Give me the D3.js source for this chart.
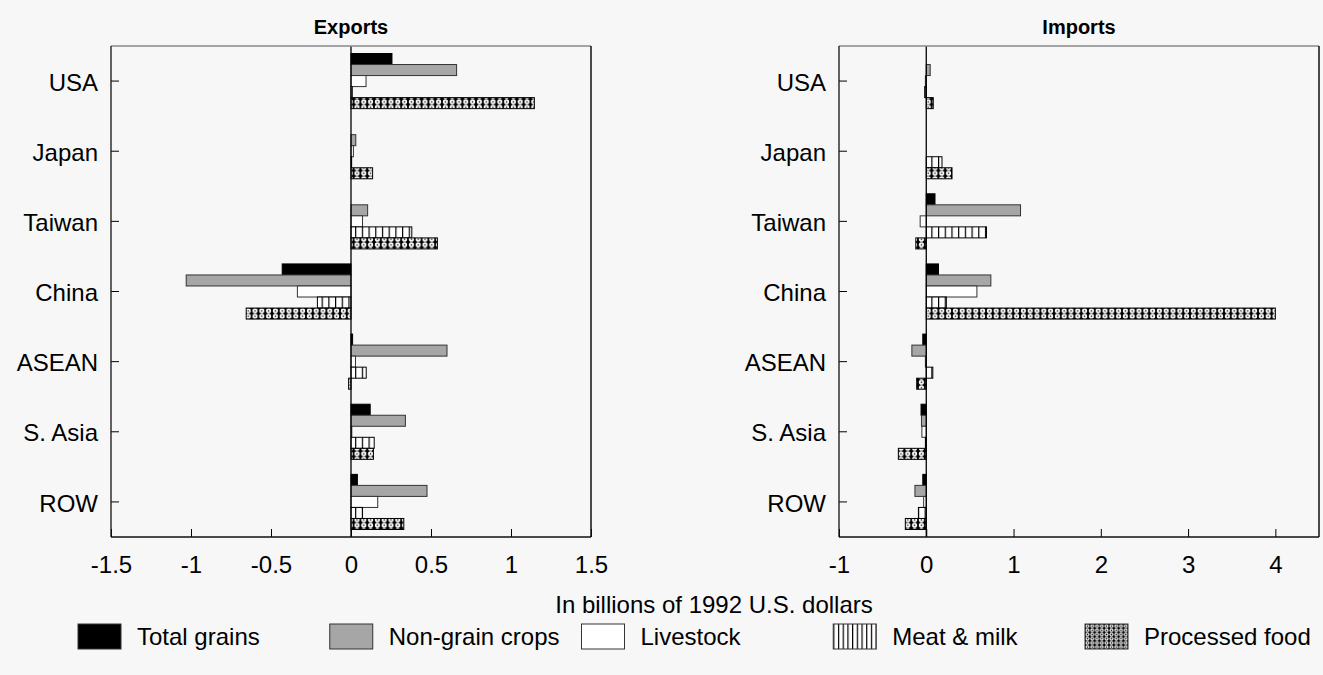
<!DOCTYPE html>
<html>
<head>
<meta charset="utf-8">
<script src="https://cdn.jsdelivr.net/npm/d3@7"></script>
<style>
  html, body { margin: 0; padding: 0; background: #f7f7f7; }
  svg { display: block; font-family: "Liberation Sans", Arial, sans-serif; }
</style>
</head>
<body>
<svg id="chart" width="1323" height="675"></svg>
<script>
// Regions and commodity groups
const regions = ["USA", "Japan", "Taiwan", "China", "ASEAN", "S. Asia", "ROW"];
const groups = ["Total grains", "Non-grain crops", "Livestock", "Meat & milk", "Processed food"];

// Change in exports, billions of 1992 US$
const expTotalGrains = [0.256, 0, 0, -0.43, 0.01, 0.12, 0.04];
const expNonGrain    = [0.66, 0.03, 0.104, -1.03, 0.6, 0.34, 0.475];
const expLivestock   = [0.094, 0.015, 0.072, -0.335, 0.028, 0.005, 0.167];
const expMeatMilk    = [0.008, 0.004, 0.38, -0.21, 0.095, 0.145, 0.072];
const expProcessed   = [1.146, 0.135, 0.54, -0.655, -0.015, 0.14, 0.33];

// Change in imports, billions of 1992 US$
const impTotalGrains = [0, 0, 0.1, 0.14, -0.04, -0.06, -0.04];
const impNonGrain    = [0.045, 0, 1.08, 0.74, -0.165, -0.055, -0.13];
const impLivestock   = [-0.01, 0, -0.07, 0.58, -0.01, -0.05, -0.03];
const impMeatMilk    = [-0.018, 0.18, 0.69, 0.23, 0.075, -0.01, -0.09];
const impProcessed   = [0.08, 0.295, -0.12, 4.0, -0.11, -0.32, -0.24];

// Axis ticks
const expTicks = [-1.5, -1, -0.5, 0, 0.5, 1, 1.5];
const impTicks = [-1, 0, 1, 2, 3, 4];

const svg = d3.select("#chart");
const defs = svg.append("defs");

// Fill patterns
function stripePattern(id, w) {
  const p = defs.append("pattern").attr("id", id)
    .attr("patternUnits", "userSpaceOnUse").attr("width", w).attr("height", 10);
  p.append("rect").attr("width", w).attr("height", 10).attr("fill", "#fff");
  p.append("line").attr("x1", 0.6).attr("x2", 0.6).attr("y1", 0).attr("y2", 10)
    .attr("stroke", "#000").attr("stroke-width", 1.2);
}
function lacePattern(id, w, h) {
  const p = defs.append("pattern").attr("id", id)
    .attr("patternUnits", "userSpaceOnUse").attr("width", w).attr("height", h);
  p.append("rect").attr("width", w).attr("height", h).attr("fill", "#000");
  p.append("circle").attr("cx", w / 2).attr("cy", h / 2).attr("r", Math.min(w, h) * 0.47).attr("fill", "#fff");
  p.append("circle").attr("cx", w / 2).attr("cy", h / 2).attr("r", 0.8).attr("fill", "#000");
}
stripePattern("meat", 6.7);
stripePattern("meatLegend", 4.7);
lacePattern("proc", 6.8, 5.5);
lacePattern("procLegend", 4.8, 4.2);

const styles = [
  { fill: "#000", stroke: "#000", legendFill: "#000" },
  { fill: "#a6a6a6", stroke: "#333", legendFill: "#a6a6a6" },
  { fill: "#fff", stroke: "#333", legendFill: "#fff" },
  { fill: "url(#meat)", stroke: "#000", legendFill: "url(#meatLegend)" },
  { fill: "url(#proc)", stroke: "#000", legendFill: "url(#procLegend)" }
];

const plotTop = 46, plotBottom = 537;
const y = d3.scaleBand().domain(regions).range([plotTop, plotBottom]).paddingInner(0).paddingOuter(0);
const yInner = d3.scaleBand().domain(groups).range([0, y.bandwidth()]).paddingInner(0).paddingOuter(0.68);

function panel(title, series, domain, range, ticks) {
  const x = d3.scaleLinear().domain(domain).range(range);
  const g = svg.append("g");

  // bars
  series.forEach((vals, si) => {
    g.append("g").selectAll("rect").data(vals.map((v, i) => ({ v, r: regions[i] })))
      .join("rect")
      .attr("x", d => x(Math.min(0, d.v)))
      .attr("width", d => Math.abs(x(d.v) - x(0)))
      .attr("y", d => y(d.r) + yInner(groups[si]))
      .attr("height", yInner.bandwidth())
      .attr("fill", styles[si].fill)
      .attr("stroke", styles[si].stroke)
      .attr("stroke-width", 1);
  });

  // zero line
  g.append("line").attr("x1", x(0)).attr("x2", x(0)).attr("y1", plotTop).attr("y2", plotBottom)
    .attr("stroke", "#000").attr("stroke-width", 1.3);

  // axes
  const yAxis = g.append("g").attr("transform", `translate(${range[0]},0)`)
    .call(d3.axisLeft(y).tickSizeInner(-8).tickSizeOuter(0).tickPadding(13));
  const xAxis = g.append("g").attr("transform", `translate(0,${plotBottom})`)
    .call(d3.axisBottom(x).tickValues(ticks).tickFormat(d => String(d))
      .tickSizeInner(-8).tickSizeOuter(0).tickPadding(19));
  [yAxis, xAxis].forEach(a => {
    a.select(".domain").remove();
    a.selectAll("text").attr("font-size", 24).attr("fill", "#000")
      .attr("font-family", "'Liberation Sans', Arial, sans-serif");
    a.selectAll(".tick line").attr("stroke", "#000");
  });
  yAxis.selectAll("text").attr("dy", "0.4em");

  // frame
  g.append("line").attr("x1", range[0]).attr("x2", range[1]).attr("y1", plotTop).attr("y2", plotTop)
    .attr("stroke", "#888").attr("stroke-width", 1.5);
  g.append("line").attr("x1", range[1]).attr("x2", range[1]).attr("y1", plotTop).attr("y2", plotBottom)
    .attr("stroke", "#111").attr("stroke-width", 1.5);
  g.append("line").attr("x1", range[0]).attr("x2", range[0]).attr("y1", plotTop).attr("y2", plotBottom)
    .attr("stroke", "#111").attr("stroke-width", 1.3);
  g.append("line").attr("x1", range[0]).attr("x2", range[1]).attr("y1", plotBottom).attr("y2", plotBottom)
    .attr("stroke", "#111").attr("stroke-width", 1.3);

  // title
  g.append("text").attr("x", (range[0] + range[1]) / 2).attr("y", 34)
    .attr("text-anchor", "middle").attr("font-weight", "bold").attr("font-size", 20)
    .text(title);
}

panel("Exports", [expTotalGrains, expNonGrain, expLivestock, expMeatMilk, expProcessed],
  [-1.5, 1.5], [111, 591], expTicks);
panel("Imports", [impTotalGrains, impNonGrain, impLivestock, impMeatMilk, impProcessed],
  [-1, 4.5], [839, 1319], impTicks);

// shared axis caption
svg.append("text").attr("x", 714).attr("y", 613).attr("text-anchor", "middle")
  .attr("font-size", 24).text("In billions of 1992 U.S. dollars");

// legend
const legendX = d3.scalePoint().domain(groups).range([78, 1085]);
const lg = svg.append("g").selectAll("g").data(groups).join("g")
  .attr("transform", d => `translate(${legendX(d)},624)`);
lg.append("rect").attr("width", 43).attr("height", 25)
  .attr("fill", (d, i) => styles[i].legendFill).attr("stroke", "#333").attr("stroke-width", 1);
lg.append("text").attr("x", 59).attr("y", 21).attr("font-size", 24).text(d => d);
</script>
</body>
</html>
